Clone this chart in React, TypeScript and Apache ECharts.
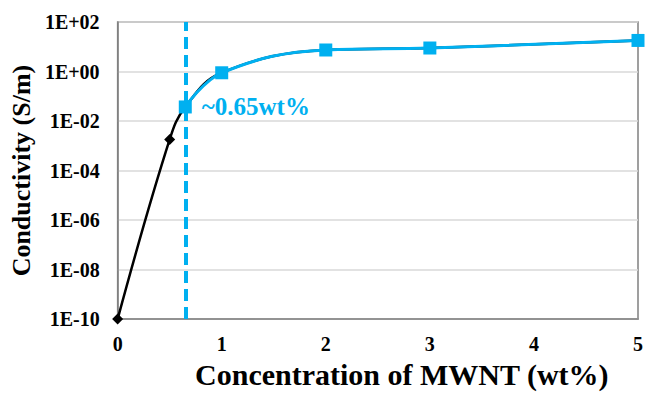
import React, { useEffect, useRef } from "react";
import * as echarts from "echarts";

const blackX = [0, 0.5, 0.65, 1, 2, 3, 5];
const blackY = [1e-10, 1.8e-3, 0.037, 0.89, 7.4, 8.9, 18];
const blueX = [0.65, 1, 2, 3, 5];
const blueY = [0.037, 0.89, 7.4, 8.9, 18];
const thresholdX = 0.65;
const thresholdLabel = "~0.65wt%";
const xTitle = "Concentration of MWNT (wt%)";
const yTitle = "Conductivity (S/m)";

const FONT = "Liberation Serif";
const BLUE = "#00B0F0";

function fmtExp(v: number): string {
  const e = Math.round(Math.log10(v));
  return "1E" + (e < 0 ? "-" : "+") + String(Math.abs(e)).padStart(2, "0");
}

export default function App() {
  const ref = useRef<HTMLDivElement>(null);
  useEffect(() => {
    if (!ref.current) return;
    const chart = echarts.init(ref.current, undefined, { renderer: "svg" });
    const blackData = blackX.map((x, i) => [x, blackY[i]]);
    const blueData: any[] = blueX.map((x, i) => {
      const item: any = { value: [x, blueY[i]] };
      if (x === thresholdX) {
        item.label = {
          show: true,
          position: "right",
          distance: 10,
          formatter: thresholdLabel,
          color: BLUE,
          fontFamily: FONT,
          fontWeight: "bold",
          fontSize: 25,
        };
      }
      return item;
    });
    chart.setOption({
      animation: false,
      backgroundColor: "#fff",
      textStyle: { fontFamily: FONT },
      grid: {
        left: 116,
        right: 3,
        top: 22,
        bottom: 67,
        show: true,
        borderColor: "#808080",
        borderWidth: 1.5,
      },
      xAxis: {
        type: "value",
        min: 0,
        max: 5,
        interval: 1,
        name: xTitle,
        nameLocation: "middle",
        nameGap: 39,
        nameTextStyle: {
          fontFamily: FONT,
          fontWeight: "bold",
          fontSize: 30,
          color: "#000",
          padding: [0, 0, 0, 48],
        },
        axisLine: { show: true, lineStyle: { color: "#808080", width: 1.5 } },
        axisTick: { show: false },
        splitLine: { show: false },
        axisLabel: {
          margin: 15,
          fontFamily: FONT,
          fontWeight: "bold",
          fontSize: 20,
          color: "#000",
        },
      },
      yAxis: {
        type: "log",
        logBase: 10,
        min: 1e-10,
        max: 1e2,
        interval: 2,
        name: yTitle,
        nameLocation: "middle",
        nameRotate: 90,
        nameGap: 82,
        nameTextStyle: {
          fontFamily: FONT,
          fontWeight: "bold",
          fontSize: 26,
          color: "#000",
        },
        axisLine: { show: true, lineStyle: { color: "#808080", width: 1.5 } },
        axisTick: { show: false },
        splitLine: { show: true, lineStyle: { color: "#d9d9d9", width: 1.5 } },
        axisLabel: {
          margin: 18,
          fontFamily: FONT,
          fontWeight: "bold",
          fontSize: 20,
          color: "#000",
          formatter: (v: number) => fmtExp(v),
        },
      },
      series: [
        {
          type: "line",
          data: blackData,
          smooth: 0.4,
          symbol: "diamond",
          symbolSize: 11,
          itemStyle: { color: "#000" },
          lineStyle: { color: "#000", width: 2.5 },
          z: 2,
        },
        {
          type: "line",
          data: blueData,
          smooth: 0.4,
          symbol: "rect",
          symbolSize: 13,
          itemStyle: { color: BLUE },
          lineStyle: { color: BLUE, width: 3 },
          z: 3,
          markLine: {
            silent: true,
            symbol: "none",
            label: { show: false },
            lineStyle: { color: BLUE, type: [12, 6], width: 4 },
            data: [{ xAxis: thresholdX }],
          },
        },
      ],
    });
    return () => chart.dispose();
  }, []);
  return (
    <div
      ref={ref}
      style={{ position: "fixed", left: 0, top: 0, width: 646, height: 394 }}
    />
  );
}
